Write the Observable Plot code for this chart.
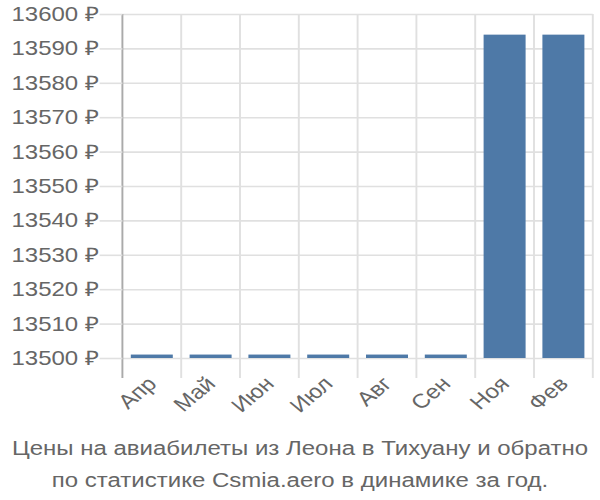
<!DOCTYPE html>
<html>
<head>
<meta charset="utf-8">
<script src="https://cdn.jsdelivr.net/npm/d3@7"></script>
<script src="https://cdn.jsdelivr.net/npm/@observablehq/plot@0.6"></script>
<style>
  html, body { margin: 0; padding: 0; background: #fff; }
  #chart svg { display: block; }
  #caption {
    width: 500px;
    transform: scaleX(1.2);
    transform-origin: 0 0;
    text-align: center;
    font-family: "Liberation Sans", Arial, sans-serif;
    font-size: 20px;
    line-height: 32px;
    color: #666;
    margin-top: 12px;
  }
</style>
</head>
<body>
<div id="chart"></div>
<div id="caption">Цены на авиабилеты из Леона в Тихуану и обратно<br>по статистике Csmia.aero в динамике за год.</div>
<script>
const months = ["Апр", "Май", "Июн", "Июл", "Авг", "Сен", "Ноя", "Фев"];
const prices = [13501, 13501, 13501, 13501, 13501, 13501, 13594, 13594];
const yDomain = [13500, 13600];
const yTicks = d3.range(13500, 13601, 10);

const data = months.map((m, i) => ({month: m, price: prices[i]}));

const W = 500, H = 420;
const gridColor = "#e0e0e0";

// vertical band-boundary grid lines (derived from the band scale)
function bandGrid(index, scales, values, dims) {
  const x = scales.x;
  const step = x.step();
  const r = x.range();
  const left = r[0];
  const n = months.length;
  const g = d3.create("svg:g");
  const bottom = dims.height - dims.marginBottom + 20;
  for (let i = 0; i <= n; i++) {
    const xx = left + i * step;
    g.append("line")
      .attr("x1", xx).attr("x2", xx)
      .attr("y1", dims.marginTop).attr("y2", bottom)
      .attr("stroke", i === 0 ? "#aaa" : gridColor)
      .attr("stroke-width", 1.6);
  }
  return g.node();
}

const plot = Plot.plot({
  width: W,
  height: H,
  marginLeft: 102,
  marginRight: 6,
  marginTop: 14,
  marginBottom: 62,
  style: {fontFamily: "'Liberation Sans', Arial, sans-serif", fontSize: "20px", background: "#fff"},
  x: {domain: months, paddingInner: 0.29, paddingOuter: 0.145, label: null},
  y: {domain: yDomain, label: null},
  marks: [
    Plot.gridY(yTicks, {stroke: gridColor, strokeOpacity: 1, strokeWidth: 1.6}),
    bandGrid,
    Plot.barY(data, {x: "month", y1: yDomain[0], y2: "price", fill: "#4e79a7"}),
    Plot.axisY(yTicks, {tickSize: 19, tickPadding: 1, stroke: gridColor, strokeWidth: 1.6, fill: "#666", fontSize: 20, tickFormat: d => d + " ₽"}),
    Plot.axisX({tickSize: 0, tickPadding: 22, tickRotate: -45, fill: "#666", fontSize: 20})
  ]
});

plot.setAttribute("width", 600);
plot.setAttribute("height", H);
plot.setAttribute("viewBox", `0 0 ${W} ${H}`);
plot.setAttribute("preserveAspectRatio", "none");
plot.style.maxWidth = "none";
plot.style.width = "600px";
plot.style.height = H + "px";
document.getElementById("chart").appendChild(plot);
</script>
</body>
</html>
